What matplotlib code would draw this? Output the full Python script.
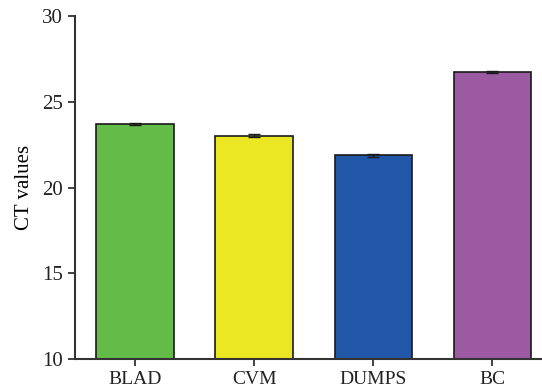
import matplotlib
matplotlib.use("Agg")
import matplotlib.pyplot as plt
import numpy as np

# CT values per assay
groups = ["BLAD", "CVM", "DUMPS", "BC"]
ct_values = [23.70, 23.03, 21.87, 26.73]
ct_err = [0.05, 0.07, 0.08, 0.07]
bar_colors = ["#63bc47", "#ebe823", "#2157a6", "#9b5aa2"]

plt.rcParams['font.family'] = ['Liberation Serif', 'DejaVu Serif']

fig = plt.figure(figsize=(5.42, 3.92), dpi=100)
ax = fig.add_axes([0.1384, 0.0842, 0.862, 0.8749])

x = np.arange(len(groups))
ax.bar(x, ct_values, width=0.65, color=bar_colors, edgecolor="#1a1a1a",
       linewidth=1.2, zorder=2)
ax.errorbar(x, ct_values, yerr=ct_err, fmt="none", ecolor="#1a1a1a",
            elinewidth=1.0, capsize=4, capthick=1.0, zorder=3)

ax.set_ylim(10, 30)
ax.set_xlim(-0.505, 3.42)
ax.set_yticks([10, 15, 20, 25, 30])
ax.set_xticks(x)
ax.set_xticklabels(groups, fontsize=14)
ax.set_ylabel("CT values", fontsize=15, labelpad=6)

for side in ["top", "right"]:
    ax.spines[side].set_visible(False)
for side in ["left", "bottom"]:
    ax.spines[side].set_color("#333333")
    ax.spines[side].set_linewidth(1.5)
ax.tick_params(axis="both", colors="#333333", width=1.3, length=5,
               labelcolor="#222222")
ax.tick_params(axis="y", labelsize=15)

fig.savefig("out.png", dpi=100)
